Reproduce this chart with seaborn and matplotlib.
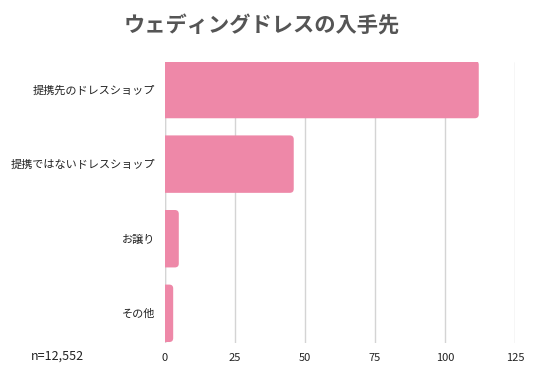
import matplotlib
matplotlib.use("Agg")
import matplotlib.pyplot as plt
import seaborn as sns
import pandas as pd
from matplotlib.patches import FancyBboxPatch

# Data
categories = ["提携先のドレスショップ", "提携ではないドレスショップ", "お譲り", "その他"]
values = [112, 46, 5, 3]
x_ticks = [0, 25, 50, 75, 100, 125]
title = "ウェディングドレスの入手先"
note = "n=12,552"

sns.set_theme(style="white")
plt.rcParams["font.family"] = ["Noto Sans CJK JP", "DejaVu Sans"]

df = pd.DataFrame({"category": categories, "value": values})

fig = plt.figure(figsize=(5.35, 3.8), dpi=100)
ax = fig.add_axes([0.308, 0.097, 0.655, 0.74])

sns.barplot(data=df, x="value", y="category", color="#EE88A8",
            width=0.77, ax=ax, saturation=1)

# swap plain bars for ones with rounded right corners
# (box starts left of 0 so the axes clip the left side square)
for p in list(ax.patches):
    x0, y0 = p.get_x(), p.get_y()
    w, h = p.get_width(), p.get_height()
    p.set_visible(False)
    rb = FancyBboxPatch((x0 - 3, y0), w + 3, h,
                        boxstyle="round,pad=0,rounding_size=1.4",
                        mutation_aspect=2.8 / 75,
                        facecolor="#EE88A8", edgecolor="none", zorder=3)
    ax.add_patch(rb)

ax.set_xlim(0, 125)
ax.set_ylim(3.4, -0.37)
ax.set_xticks(x_ticks)
ax.xaxis.grid(True, color="#d4d4d4", linewidth=1)
ax.set_axisbelow(True)
for s in ax.spines.values():
    s.set_visible(False)
ax.axvline(0, color="#d4d4d4", linewidth=1, zorder=1)
ax.set_xlabel("")
ax.set_ylabel("")
ax.tick_params(axis="both", length=0, labelsize=8, colors="#222222")
ax.tick_params(axis="y", pad=7)
ax.tick_params(axis="x", pad=7)

fig.text(0.489, 0.932, title, ha="center", va="center", fontsize=15.3,
         fontweight="bold", color="#555555")
fig.text(0.057, 0.063, note, ha="left", va="center", fontsize=9,
         color="#222222")

plt.savefig("out.png", dpi=100)
